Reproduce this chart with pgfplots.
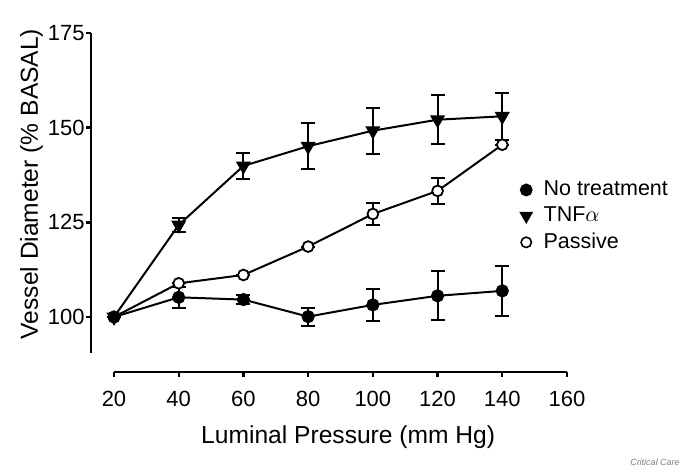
\documentclass[border=0pt]{standalone}
\usepackage{fontspec}
\setmainfont{Liberation Sans}
\usepackage{pgfplots}
\pgfplotsset{compat=1.18}
\begin{document}
\begin{tikzpicture}
\useasboundingbox (-57pt,-60.5pt) rectangle (285.5pt,176.5pt);
\begin{axis}[
  scale only axis, width=226.5pt, height=160pt,
  xmin=20, xmax=160, ymin=90.5, ymax=175,
  axis lines=left, axis line style={-, line width=1.4pt},
  axis x line shift=9.5pt, axis y line shift=11.5pt,
  xtick={20,40,...,160}, ytick={100,125,150,175},
  tick align=outside, major tick length=2.5pt, tick style={line width=1.2pt, black},
  ticklabel style={font=\fontsize{11}{13}\selectfont},
  x tick label style={yshift=-3.5pt},
  y tick label style={inner xsep=0.5pt},
  /pgf/number format/assume math mode=true,
  xlabel={Luminal Pressure (mm Hg)}, ylabel={Vessel Diameter (\% BASAL)},
  label style={font=\fontsize{12.3}{14}\selectfont},
  x label style={at={(axis description cs:0.517,-0.2625)}, anchor=center},
  y label style={at={(axis description cs:-0.182,0.528)}, anchor=center},
  legend style={at={(axis description cs:0.884,0.427)}, anchor=west, draw=none, fill=none,
    font=\fontsize{10.75}{13}\selectfont, row sep=2.1pt, column sep=5pt, nodes={inner sep=1pt}},
  legend cell align=left,
  clip=false,
  every axis plot/.append style={line width=1pt, black},
  error bars/error bar style={line width=1pt},
  error bars/error mark options={rotate=90, mark size=3.5pt, line width=1pt},
]
\addlegendimage{only marks, mark=*, mark size=2.7pt, fill=black}
\addlegendentry{No treatment}
\addlegendimage{only marks, mark=triangle*, mark size=3pt, mark options={rotate=180, fill=black}}
\addlegendentry{TNF$\alpha$}
\addlegendimage{only marks, mark=o, mark size=2.6pt, mark options={fill=white, line width=0.8pt}}
\addlegendentry{Passive}

\addplot[forget plot, mark=triangle*, mark size=3.4pt, mark options={rotate=180, fill=black},
  error bars/.cd, y dir=both, y explicit] coordinates {
  (20,100) +- (0,0)
  (40,124.3) +- (0,1.8)
  (60,139.9) +- (0,3.4)
  (80,145.1) +- (0,6.0)
  (100,149.2) +- (0,6.1)
  (120,152.1) +- (0,6.4)
  (140,153.0) +- (0,6.2)
};
\addplot[forget plot, mark=*, mark size=2.7pt, mark options={fill=white, line width=0.9pt},
  error bars/.cd, y dir=both, y explicit] coordinates {
  (20,100) +- (0,0)
  (40,108.9) +- (0,0)
  (60,111.1) +- (0,0)
  (80,118.6) +- (0,0)
  (100,127.2) +- (0,2.9)
  (120,133.3) +- (0,3.5)
  (140,145.5) +- (0,0)
};
\addplot[forget plot, mark=*, mark size=2.8pt, mark options={fill=black},
  error bars/.cd, y dir=both, y explicit] coordinates {
  (20,100) +- (0,0)
  (40,105.2) +- (0,2.7)
  (60,104.6) +- (0,1.2)
  (80,100.1) +- (0,2.4)
  (100,103.2) +- (0,4.2)
  (120,105.6) +- (0,6.5)
  (140,106.9) +- (0,6.6)
};
\end{axis}
\node[font=\fontsize{4.5}{5}\selectfont\itshape, text=gray] at (270.5pt,-54.5pt) {Critical Care};
\end{tikzpicture}
\end{document}
